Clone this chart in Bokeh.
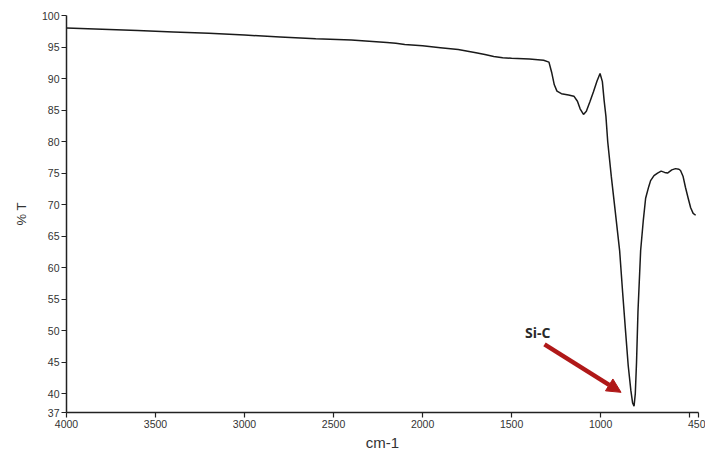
from bokeh.plotting import figure
from bokeh.models import FixedTicker, Arrow, NormalHead, Label, Range1d
from bokeh.embed import file_html
from bokeh.resources import INLINE

wavenumber = [4000, 3800, 3600, 3400, 3200, 3000, 2800, 2600, 2400, 2300, 2200, 2150,
              2100, 2000, 1900, 1800, 1700, 1650, 1600, 1550, 1500, 1400, 1320, 1290,
              1275, 1260, 1245, 1220, 1180, 1150, 1130, 1115, 1096, 1080, 1060, 1040,
              1020, 1003, 990, 980, 970, 960, 940, 920, 893, 876, 860, 845, 830, 820,
              812, 805, 798, 790, 775, 760, 747, 730, 719, 700, 680, 660, 640, 624,
              600, 579, 560, 551, 537, 523, 508, 494, 480, 466]
transmittance = [98.0, 97.8, 97.6, 97.4, 97.2, 96.9, 96.6, 96.3, 96.1, 95.9, 95.7, 95.6,
                 95.4, 95.2, 94.9, 94.6, 94.1, 93.8, 93.5, 93.3, 93.2, 93.1, 92.9, 92.6,
                 91.0, 89.0, 88.0, 87.6, 87.4, 87.2, 86.4, 85.2, 84.3, 84.8, 86.3, 87.9,
                 89.6, 90.8, 89.5, 86.5, 84.0, 80.0, 74.5, 69.5, 62.7, 56.0, 50.0, 44.5,
                 40.5, 38.5, 38.0, 40.0, 45.0, 53.0, 62.7, 67.5, 71.0, 72.8, 73.8, 74.6,
                 75.0, 75.3, 75.1, 75.0, 75.5, 75.7, 75.6, 75.4, 74.5, 72.7, 71.0, 69.5,
                 68.6, 68.3]

x_ticks = [4000, 3500, 3000, 2500, 2000, 1500, 1000, 500, 450]
y_ticks = [37, 40, 45, 50, 55, 60, 65, 70, 75, 80, 85, 90, 95, 100]

p = figure(width=705, height=455, output_backend="svg", toolbar_location=None,
           x_range=Range1d(4000, 450), y_range=Range1d(37, 100),
           min_border_left=66, min_border_right=7, min_border_top=15,
           min_border_bottom=43)
p.outline_line_color = None
p.xgrid.visible = False
p.ygrid.visible = False

p.line(wavenumber, transmittance, line_color="#1a1a1a", line_width=1.5)

for ax in (p.xaxis[0], p.yaxis[0]):
    ax.axis_line_color = "#222222"
    ax.axis_line_width = 1.5
    ax.major_tick_line_color = "#222222"
    ax.major_tick_line_width = 1.2
    ax.major_tick_out = 5
    ax.major_tick_in = 0
    ax.minor_tick_line_color = None
    ax.major_label_text_font = "Liberation Sans"
    ax.major_label_text_font_size = "10.5px"
    ax.major_label_text_color = "#333333"
    ax.axis_label_text_font = "Liberation Sans"
    ax.axis_label_text_font_style = "normal"
    ax.axis_label_text_color = "#333333"

p.xaxis.ticker = FixedTicker(ticks=x_ticks)
p.xaxis.major_label_overrides = {500: ""}
p.yaxis.ticker = FixedTicker(ticks=y_ticks)
p.xaxis.axis_label = "cm-1"
p.xaxis.axis_label_text_font_size = "15px"
p.xaxis.axis_label_standoff = 3
p.yaxis.axis_label = "% T"
p.yaxis.axis_label_text_font_size = "13px"
p.yaxis.axis_label_standoff = 10
p.yaxis.major_label_standoff = 2
p.xaxis.major_label_standoff = 2

p.add_layout(Arrow(end=NormalHead(size=14, fill_color="#b01818", line_color="#b01818"),
                   x_start=1315, y_start=47.8, x_end=885, y_end=40.2,
                   line_color="#b01818", line_width=4.5))
p.add_layout(Label(x=1425, y=48.2, text="Si-C", text_font="Open Sans",
                   text_font_style="bold", text_font_size="14px",
                   text_color="#2a2a2a"))

open("out.html", "w").write(file_html(p, INLINE))
